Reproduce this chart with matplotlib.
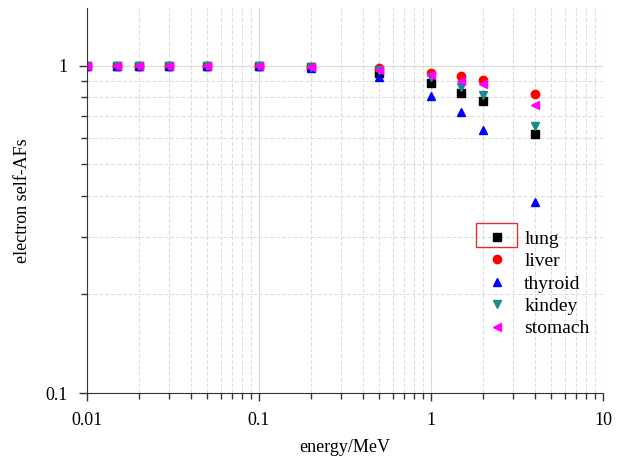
import numpy as np
import matplotlib.pyplot as plt
from matplotlib.patches import Rectangle
from matplotlib.ticker import LogLocator, NullFormatter, FixedLocator, FixedFormatter

plt.rcParams['font.family'] = ['Liberation Serif', 'DejaVu Serif']

energy = [0.01, 0.015, 0.02, 0.03, 0.05, 0.1, 0.2, 0.5, 1, 1.5, 2, 4]
lung = [1.0, 1.0, 1.0, 1.0, 1.0, 0.997, 0.99, 0.95, 0.887, 0.827, 0.782, 0.62]
liver = [1.0, 1.0, 1.0, 1.0, 1.0, 0.998, 0.992, 0.986, 0.952, 0.932, 0.906, 0.821]
thyroid = [1.0, 1.0, 1.0, 1.0, 1.0, 0.995, 0.985, 0.922, 0.81, 0.723, 0.637, 0.384]
kindey = [1.0, 1.0, 1.0, 1.0, 1.0, 0.997, 0.99, 0.972, 0.925, 0.863, 0.815, 0.655]
stomach = [1.0, 1.0, 1.0, 1.0, 1.0, 0.998, 0.99, 0.972, 0.939, 0.90, 0.881, 0.76]

series = [
    ("lung", lung, "s", "black"),
    ("liver", liver, "o", "red"),
    ("thyroid", thyroid, "^", "blue"),
    ("kindey", kindey, "v", "#1a8a8a"),
    ("stomach", stomach, "<", "magenta"),
]

fig = plt.figure(figsize=(6.27, 4.61), dpi=100)
ax = fig.add_axes([0.1388, 0.1475, 0.8229, 0.8351])

for name, vals, m, c in series:
    ax.plot(energy, vals, linestyle="none", marker=m, color=c, ms=6,
            label=name)

ax.set_xscale("log")
ax.set_yscale("log")
ax.set_xlim(0.01, 10)
ax.set_ylim(0.1, 1.5)

ax.xaxis.set_major_locator(FixedLocator([0.01, 0.1, 1, 10]))
ax.xaxis.set_major_formatter(FixedFormatter(["0.01", "0.1", "1", "10"]))
ax.xaxis.set_minor_locator(LogLocator(base=10, subs=np.arange(2, 10)))
ax.xaxis.set_minor_formatter(NullFormatter())
ax.yaxis.set_major_locator(FixedLocator([0.1, 1]))
ax.yaxis.set_major_formatter(FixedFormatter(["0.1", "1"]))
ax.yaxis.set_minor_locator(LogLocator(base=10, subs=np.arange(2, 10)))
ax.yaxis.set_minor_formatter(NullFormatter())

ax.grid(which="major", color="#d9d9d9", linestyle="-", linewidth=0.8)
ax.grid(which="minor", color="#dedede", linestyle="--", linewidth=0.8)
ax.set_axisbelow(True)

for s in ["top", "right"]:
    ax.spines[s].set_visible(False)
for s in ["left", "bottom"]:
    ax.spines[s].set_color("#333333")

ax.tick_params(which="major", length=6, width=1, labelsize=13, color="#333333")
ax.tick_params(which="minor", length=4, width=1, color="#333333")
ax.tick_params(axis="x", pad=8)
ax.tick_params(axis="y", pad=8)

ax.set_xlabel("energy/MeV", fontsize=13, labelpad=7)
ax.set_ylabel("electron self-AFs", fontsize=13, labelpad=10)

ax.legend(loc="upper left", bbox_to_anchor=(0.738, 0.469), frameon=False,
          fontsize=14, handletextpad=0.8, labelspacing=0.25,
          handlelength=1.2)

fig.patches.append(Rectangle((476 / 627, 1 - 247 / 461), 41 / 627, 24 / 461,
                             transform=fig.transFigure, fill=False,
                             edgecolor="#e03030", linewidth=1))

plt.savefig("out.png", dpi=100)
